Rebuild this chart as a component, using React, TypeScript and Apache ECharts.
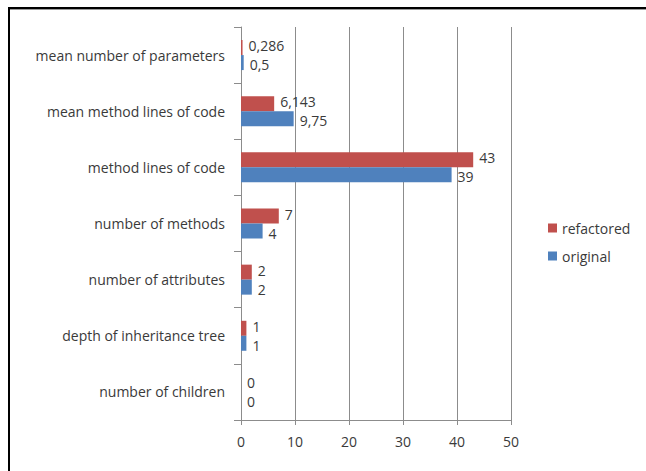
import React, { useEffect, useRef } from "react";
import * as echarts from "echarts";

const categories = [
  "number of children",
  "depth of inheritance tree",
  "number of attributes",
  "number of methods",
  "method lines of code",
  "mean method lines of code",
  "mean number of parameters",
];
const original = [0, 1, 2, 4, 39, 9.75, 0.5];
const refactored = [0, 1, 2, 7, 43, 6.143, 0.286];

const FONT = "'Open Sans', Lato, sans-serif";
const TEXT = "#3a3a3a";

export default function App() {
  const ref = useRef<HTMLDivElement>(null);
  useEffect(() => {
    if (!ref.current) return;
    const chart = echarts.init(ref.current, undefined, { renderer: "svg" });
    const mkLabel = (dy: number) => ({
      show: true,
      position: "right" as const,
      distance: 6,
      offset: [0, dy],
      color: TEXT,
      fontFamily: FONT,
      fontSize: 14,
      lineHeight: 14,
      formatter: (p: any) => String(p.value).replace(".", ","),
    });
    chart.setOption({
      animation: false,
      backgroundColor: "#ffffff",
      textStyle: { fontFamily: FONT },
      grid: { left: 241, right: 135, top: 27, bottom: 51 },
      legend: {
        data: ["refactored", "original"],
        orient: "vertical",
        left: 543,
        top: 216,
        itemWidth: 9,
        itemHeight: 9,
        itemGap: 14,
        icon: "rect",
        textStyle: { color: TEXT, fontFamily: FONT, fontSize: 14 },
      },
      xAxis: {
        type: "value",
        min: 0,
        max: 50,
        interval: 10,
        axisLine: { show: true, lineStyle: { color: "#8c8c8c" } },
        axisTick: { show: true, length: 5, lineStyle: { color: "#8c8c8c" } },
        splitLine: { show: true, lineStyle: { color: "#8c8c8c" } },
        axisLabel: { color: TEXT, fontFamily: FONT, fontSize: 14, margin: 14 },
      },
      yAxis: {
        type: "category",
        data: categories,
        axisLine: { show: true, lineStyle: { color: "#8c8c8c" } },
        axisTick: { show: true, length: 7, alignWithLabel: false, lineStyle: { color: "#8c8c8c" } },
        axisLabel: { color: TEXT, fontFamily: FONT, fontSize: 14, margin: 16 },
        splitLine: { show: false },
      },
      series: [
        {
          name: "refactored",
          type: "bar",
          data: refactored,
          itemStyle: { color: "#C0504D" },
          barWidth: 15,
          barGap: "0%",
          label: mkLabel(-2),
        },
        {
          name: "original",
          type: "bar",
          data: original,
          itemStyle: { color: "#4F81BD" },
          barWidth: 15,
          barGap: "0%",
          label: mkLabel(2),
        },
      ],
      graphic: [
        { type: "rect", shape: { x: 8, y: 7, width: 660, height: 2 }, style: { fill: "#000" } },
        { type: "rect", shape: { x: 8, y: 9, width: 660, height: 1 }, style: { fill: "#9a9a9a" } },
        { type: "rect", shape: { x: 8, y: 7, width: 2, height: 480 }, style: { fill: "#000" } },
      ],
    });
    return () => chart.dispose();
  }, []);
  return <div ref={ref} style={{ width: 646, height: 471, position: "absolute", left: 0, top: 0 }} />;
}
